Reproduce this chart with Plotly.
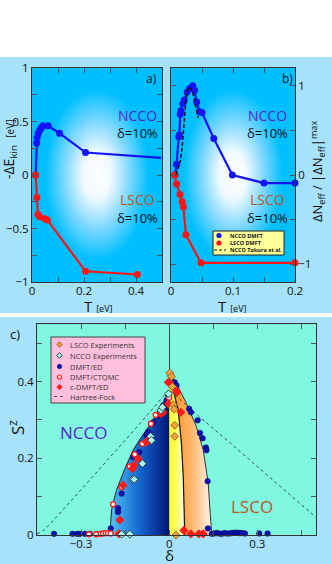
import plotly.graph_objects as go

# ---- panel a: kinetic energy gain vs T
a_ncco_T = [0.014, 0.018, 0.020, 0.024, 0.030, 0.035, 0.042, 0.062, 0.106, 0.206, 0.497]
a_ncco_E = [0.0, 0.30, 0.35, 0.39, 0.42, 0.44, 0.46, 0.46, 0.39, 0.21, 0.16]
a_lsco_T = [0.014, 0.019, 0.023, 0.0295, 0.049, 0.059, 0.206, 0.405]
a_lsco_E = [0.0, -0.21, -0.37, -0.39, -0.41, -0.42, -0.90, -0.93]

# ---- panel b: normalised Delta N_eff vs T
b_ncco_T = [0.0065, 0.009, 0.0125, 0.0135, 0.015, 0.016, 0.019, 0.0215, 0.026, 0.030,
            0.035, 0.038, 0.0415, 0.046, 0.050, 0.069, 0.099, 0.150, 0.200]
b_ncco_N = [0.0, 0.12, 0.43, 0.45, 0.68, 0.72, 0.80, 0.84, 0.93, 0.97,
            1.0, 0.95, 0.82, 0.71, 0.70, 0.41, 0.0, -0.09, -0.09]
b_lsco_T = [0.006, 0.009, 0.0145, 0.018, 0.020, 0.024, 0.0485, 0.200]
b_lsco_N = [0.0, -0.10, -0.22, -0.30, -0.36, -0.67, -0.985, -0.985]
b_tokura_T = [0.008, 0.0156, 0.019, 0.0215, 0.024, 0.028, 0.032, 0.036, 0.040, 0.044]
b_tokura_N = [0.0, 0.17, 0.39, 0.62, 0.84, 0.985, 0.97, 0.90, 0.78, 0.64]

# ---- panel c: staggered moment vs doping
c_ncco_dome_d = [-0.202, -0.196, -0.179, -0.148, -0.122, -0.094, -0.055, -0.032, 0.0]
c_ncco_dome_s = [0.0, 0.066, 0.118, 0.178, 0.222, 0.256, 0.299, 0.333, 0.364]
c_yellow_d = [0.0, 0.031, 0.042, 0.048, 0.051, 0.053]
c_yellow_s = [0.42, 0.325, 0.238, 0.151, 0.065, 0.0]
c_orange_d = [0.0, 0.025, 0.059, 0.093, 0.116, 0.133, 0.139, 0.145]
c_orange_s = [0.42, 0.394, 0.343, 0.282, 0.221, 0.135, 0.065, 0.0]

c_hf_d = [-0.45, -0.435, -0.42, -0.40, -0.30, -0.20, -0.10, 0.0, 0.10, 0.20, 0.30, 0.40, 0.50]
c_hf_s = [0.003, 0.008, 0.018, 0.033, 0.118, 0.204, 0.29, 0.379, 0.31, 0.245, 0.178, 0.112, 0.046]

c_ed_d = [-0.392, -0.329, -0.313, -0.304, -0.287, -0.270, -0.199, -0.174, -0.174, -0.162,
          -0.123, -0.102, -0.077, -0.072, -0.054, -0.037, -0.020, -0.009, -0.003, 0.005,
          0.019, 0.025, 0.068, 0.074, 0.097, 0.105, 0.114, 0.125, 0.127, 0.131, 0.132,
          0.145, 0.153, 0.162, 0.170, 0.179, 0.188, 0.196, 0.205, 0.213, 0.222, 0.230,
          0.239, 0.247, 0.258, 0.307, 0.335]
c_ed_s = [0.003, 0.003, 0.003, 0.003, 0.003, 0.003, 0.017, 0.06, 0.07, 0.108,
          0.203, 0.216, 0.26, 0.268, 0.294, 0.312, 0.338, 0.351, 0.364, 0.416,
          0.398, 0.39, 0.329, 0.32, 0.299, 0.266, 0.252, 0.228, 0.221, 0.14, 0.017,
          0.003, 0.004, 0.005, 0.004, 0.003, 0.005, 0.004, 0.004, 0.005, 0.006, 0.006,
          0.005, 0.005, 0.004, 0.004, 0.004]
c_ctqmc_d = [-0.273, -0.248, -0.233, -0.225, -0.216, -0.208, -0.199, -0.191, -0.162,
             -0.134, -0.117, -0.091, -0.062, -0.046, 0.0]
c_ctqmc_s = [0.002, 0.002, 0.003, 0.004, 0.005, 0.005, 0.004, 0.08, 0.125,
             0.179, 0.21, 0.238, 0.29, 0.313, 0.358]
c_cdmft_d = [-0.171, -0.168, -0.157, -0.125, -0.120, -0.106, -0.077, -0.075, -0.029, -0.020,
             -0.003, -0.003, 0.002, 0.019, 0.027, 0.040, 0.050, 0.074, 0.101, 0.116]
c_cdmft_s = [0.003, 0.039, 0.13, 0.173, 0.182, 0.199, 0.242, 0.245, 0.316, 0.32,
             0.398, 0.342, 0.396, 0.381, 0.372, 0.32, 0.012, 0.003, 0.003, 0.003]
c_lscoexp_d = [0.002, 0.008, 0.011, 0.014, 0.017, 0.019, 0.019, 0.023]
c_lscoexp_s = [0.422, 0.413, 0.387, 0.34, 0.328, 0.286, 0.257, 0.0]
c_nccoexp_d = [-0.162, -0.134, -0.124, -0.119, -0.091, -0.063, -0.060, -0.028, -0.023, -0.002]
c_nccoexp_s = [0.002, 0.002, 0.145, 0.145, 0.186, 0.257, 0.247, 0.325, 0.333, 0.368]

W, H = 332, 564
FONT = "Open Sans"
NCCO_COL = "#5a24c8"
LSCO_COL = "#b8561e"
SKY = "#00bfff"
PAPER = "#a6e2fa"
AQUA = "#7ff8df"


def px(x):
    return x / W


def py(y):
    return 1 - y / H


fig = go.Figure()

# gradient backgrounds of panels a and b
bg_scale = [[0, "#ffffff"], [0.22, "#f0faff"], [0.5, "#7fd8ff"], [0.8, SKY], [1, SKY]]
for xa, ya, xr, yr in [("x", "y", (0, 0.5), (-1, 1)), ("x2", "y2", (0, 0.2), (-1.2, 1.2))]:
    fig.add_trace(go.Scatter(
        x=[xr[0], xr[1], xr[1], xr[0], xr[0]], y=[yr[0], yr[0], yr[1], yr[1], yr[0]],
        xaxis=xa, yaxis=ya, mode="lines", line=dict(width=0), fill="toself",
        fillgradient=dict(type="radial", colorscale=bg_scale), hoverinfo="skip"))

# panel a
fig.add_trace(go.Scatter(x=a_ncco_T, y=a_ncco_E, mode="lines", line=dict(color="#1414f5", width=2.2),
                         xaxis="x", yaxis="y"))
fig.add_trace(go.Scatter(x=a_ncco_T[:-1], y=a_ncco_E[:-1], mode="markers",
                         marker=dict(color="#1414f5", size=7), xaxis="x", yaxis="y"))
fig.add_trace(go.Scatter(x=a_lsco_T, y=a_lsco_E, mode="lines+markers", line=dict(color="#ff1414", width=2.2),
                         marker=dict(color="#ff1414", size=7), xaxis="x", yaxis="y", cliponaxis=False))

# panel b
fig.add_trace(go.Scatter(x=b_ncco_T, y=b_ncco_N, mode="lines+markers", line=dict(color="#1414f5", width=2.2),
                         marker=dict(color="#1414f5", size=7), xaxis="x2", yaxis="y2", cliponaxis=False))
fig.add_trace(go.Scatter(x=b_lsco_T, y=b_lsco_N, mode="lines+markers", line=dict(color="#ff1414", width=2.2),
                         marker=dict(color="#ff1414", size=7), xaxis="x2", yaxis="y2", cliponaxis=False))
fig.add_trace(go.Scatter(x=b_tokura_T, y=b_tokura_N, mode="lines", line=dict(color="#111", width=1.5, dash="4px,2px"),
                         xaxis="x2", yaxis="y2"))

# panel c domes
fig.add_trace(go.Scatter(
    x=c_ncco_dome_d + [0.0, c_ncco_dome_d[0]], y=c_ncco_dome_s + [0.0, c_ncco_dome_s[0]],
    mode="lines", line=dict(width=0), fill="toself", xaxis="x3", yaxis="y3",
    fillgradient=dict(type="horizontal", colorscale=[[0, "#52c4f8"], [0.5, "#1468d0"], [1, "#001478"]])))
fig.add_trace(go.Scatter(x=c_ncco_dome_d, y=c_ncco_dome_s, mode="lines", line=dict(color="#222", width=1),
                         xaxis="x3", yaxis="y3"))
fig.add_trace(go.Scatter(
    x=[0.0] + c_yellow_d + [0.0], y=[0.0] + c_yellow_s + [0.0],
    mode="lines", line=dict(width=0), fill="toself", xaxis="x3", yaxis="y3",
    fillgradient=dict(type="horizontal", colorscale=[[0, "#ffff1e"], [0.5, "#ffff6a"], [1, "#fffff2"]])))
fig.add_trace(go.Scatter(
    x=c_yellow_d + c_orange_d[::-1], y=c_yellow_s + c_orange_s[::-1],
    mode="lines", line=dict(width=0), fill="toself", xaxis="x3", yaxis="y3",
    fillgradient=dict(type="horizontal", colorscale=[[0, "#ff8c1a"], [0.5, "#ffb466"], [1, "#fff4ea"]])))
fig.add_trace(go.Scatter(x=c_yellow_d, y=c_yellow_s, mode="lines", line=dict(color="#111", width=1.2),
                         xaxis="x3", yaxis="y3"))
fig.add_trace(go.Scatter(x=c_orange_d, y=c_orange_s, mode="lines", line=dict(color="#333", width=1),
                         xaxis="x3", yaxis="y3"))
fig.add_trace(go.Scatter(x=c_hf_d, y=c_hf_s, mode="lines", line=dict(color="#222", width=0.8, dash="dot"),
                         xaxis="x3", yaxis="y3"))

# panel c points
fig.add_trace(go.Scatter(x=c_ed_d, y=c_ed_s, mode="markers", xaxis="x3", yaxis="y3", cliponaxis=False,
                         marker=dict(color="#0a14b4", size=5.5, line=dict(color="#00005a", width=0.6))))
fig.add_trace(go.Scatter(x=c_ctqmc_d, y=c_ctqmc_s, mode="markers", xaxis="x3", yaxis="y3", cliponaxis=False,
                         marker=dict(color="#ffffff", size=5, line=dict(color="#ff1a1a", width=1.3))))
fig.add_trace(go.Scatter(x=c_cdmft_d, y=c_cdmft_s, mode="markers", xaxis="x3", yaxis="y3", cliponaxis=False,
                         marker=dict(color="#ff1a1a", size=7, symbol="diamond", line=dict(width=0))))
fig.add_trace(go.Scatter(x=c_nccoexp_d, y=c_nccoexp_s, mode="markers", xaxis="x3", yaxis="y3", cliponaxis=False,
                         marker=dict(color="#a8fff0", size=6, symbol="diamond", line=dict(color="#2a3a4a", width=1))))
fig.add_trace(go.Scatter(x=c_lscoexp_d, y=c_lscoexp_s, mode="markers", xaxis="x3", yaxis="y3", cliponaxis=False,
                         marker=dict(color="#f5a23c", size=6, symbol="diamond", line=dict(color="#7a5020", width=0.8))))

axis_common = dict(showline=True, linecolor="#333", linewidth=1, mirror="ticks", ticks="inside",
                   ticklen=5, tickcolor="#555", showgrid=False, automargin=False,
                   tickfont=dict(family=FONT, size=11.5, color="#111"))
minor_common = dict(ticks="inside", ticklen=5, tickcolor="#555", showgrid=False)

fig.update_layout(
    width=W, height=H, margin=dict(l=0, r=0, t=0, b=0, pad=0, autoexpand=False),
    paper_bgcolor=PAPER, plot_bgcolor=AQUA, showlegend=False,
    font=dict(family=FONT, size=12, color="#111"),
    xaxis=dict(domain=[px(32), px(162)], anchor="y", range=[0, 0.5], tick0=0, dtick=0.2,
               minor=dict(dtick=0.1, **minor_common), zeroline=False, ticklabelstandoff=-2, **axis_common),
    yaxis=dict(domain=[py(282), py(68)], anchor="x", range=[-1, 1], tick0=0, dtick=0.5,
               minor=dict(dtick=0.25, **minor_common), zeroline=True, zerolinecolor="#444",
               zerolinewidth=1, **axis_common),
    xaxis2=dict(domain=[px(171), px(295)], anchor="y2", range=[0, 0.2], tick0=0, dtick=0.1,
                minor=dict(dtick=0.05, **minor_common), zeroline=False, ticklabelstandoff=-2, **axis_common),
    yaxis2=dict(domain=[py(282), py(68)], anchor="x2", side="right", range=[-1.2, 1.2], tick0=0, dtick=1,
                minor=dict(dtick=0.5, **minor_common), zeroline=True, zerolinecolor="#444",
                zerolinewidth=1, **axis_common),
    xaxis3=dict(domain=[px(37), px(316)], anchor="y3", range=[-0.45, 0.5], tick0=0, dtick=0.3,
                minor=dict(dtick=0.15, **minor_common), zeroline=True, zerolinecolor="#444",
                zerolinewidth=1, ticklabelstandoff=-2, **axis_common),
    yaxis3=dict(domain=[py(535), py(324)], anchor="x3", range=[0, 0.55], tick0=0, dtick=0.2,
                minor=dict(dtick=0.1, **minor_common), zeroline=False, **axis_common),
)

shapes = [
    dict(type="rect", xref="paper", yref="paper", x0=0, x1=1, y0=py(57), y1=1,
         fillcolor="white", line=dict(width=0), layer="below"),
    dict(type="rect", xref="paper", yref="paper", x0=0, x1=1, y0=py(317), y1=py(313),
         fillcolor="white", line=dict(width=0), layer="below"),
    # legend box panel b
    dict(type="rect", xref="paper", yref="paper", x0=px(213), x1=px(284), y0=py(255), y1=py(231),
         fillcolor="#ffff9a", line=dict(color="#222", width=1)),
    # legend box panel c
    dict(type="rect", xref="paper", yref="paper", x0=px(51), x1=px(145), y0=py(403), y1=py(337),
         fillcolor="#ffbfdd", line=dict(color="#444", width=1)),
]


def dot(cx, cy, r, fill, line=None, lw=0):
    return dict(type="circle", xref="paper", yref="paper", x0=px(cx - r), x1=px(cx + r),
                y0=py(cy + r), y1=py(cy - r), fillcolor=fill,
                line=dict(color=line or fill, width=lw))


def diamond(cx, cy, r, fill, line=None, lw=0):
    path = "M {} {} L {} {} L {} {} L {} {} Z".format(
        px(cx), py(cy - r), px(cx + r), py(cy), px(cx), py(cy + r), px(cx - r), py(cy))
    return dict(type="path", xref="paper", yref="paper", path=path, fillcolor=fill,
                line=dict(color=line or fill, width=lw))


# legend swatches panel b
shapes += [
    dot(219, 235.5, 2.6, "#1414f5"),
    dot(219, 243, 2.6, "#ff1414"),
    dict(type="line", xref="paper", yref="paper", x0=px(214), x1=px(226), y0=py(250), y1=py(250),
         line=dict(color="#111", width=1.2, dash="3px,2px")),
]
# legend swatches panel c
shapes += [
    diamond(59.5, 344.5, 2.8, "#f5a23c", "#7a5020", 0.8),
    diamond(59.5, 355.5, 2.8, "#a8fff0", "#2a3a4a", 1),
    dot(59.5, 366.5, 2.2, "#0a14b4", "#00005a", 0.6),
    dot(59.5, 377, 2.0, "#ffffff", "#ff1a1a", 1.2),
    diamond(59.5, 387, 3.0, "#ff1a1a"),
    dict(type="line", xref="paper", yref="paper", x0=px(54), x1=px(65), y0=py(396.5), y1=py(396.5),
         line=dict(color="#333", width=0.8, dash="dot")),
]
fig.update_layout(shapes=shapes)


def note(x, y, text, size=12, color="#111", angle=0, xanchor="center"):
    fig.add_annotation(x=px(x), y=py(y), xref="paper", yref="paper", text=text, showarrow=False,
                       textangle=angle, xanchor=xanchor, yanchor="middle",
                       font=dict(family=FONT, size=size, color=color))


note(151, 78, "a)", 12)
note(287, 78, "b)", 12)
note(15, 334, "c)", 13)

for cx in (137, 267):
    note(cx, 115, "NCCO", 14, NCCO_COL)
    note(cx, 133, "δ=10%", 13)
    note(cx, 199, "LSCO", 14, LSCO_COL)
    note(cx, 218, "δ=10%", 13)

note(83, 432, "NCCO", 17, NCCO_COL)
note(252, 506, "LSCO", 17, LSCO_COL)

note(98, 306, "T <span style='font-size:9px'>[eV]</span>", 15)
note(233, 306, "T <span style='font-size:9px'>[eV]</span>", 15)
note(9, 150, "-ΔE<sub>kin</sub>  <span style='font-size:10px'>[eV]</span>", 14, angle=-90)
note(317, 172, "ΔN<sub>eff</sub> / |ΔN<sub>eff</sub>|<sup>max</sup>", 13, angle=-90)
note(16, 428, "S<sup>z</sup>", 17, angle=-90)
note(169, 555, "δ", 15)

# legend text panel b
for yy, t in [(235.5, "NCCO DMFT"), (243, "LSCO DMFT"), (250, "NCCO Tokura et al.")]:
    note(228, yy, "<b>" + t + "</b>", 5.5, "#111", xanchor="left")
# legend text panel c
for yy, t in [(344.5, "LSCO Experiments"), (355.5, "NCCO Experiments"), (366.5, "DMFT/ED"),
              (377, "DMFT/CTQMC"), (387, "c-DMFT/ED"), (396.5, "Hartree-Fock")]:
    note(68, yy, t, 7.5, "#333", xanchor="left")

fig.write_html("out.html", config={"displayModeBar": False},
               post_script="document.body.style.margin='0';document.body.style.overflow='hidden';")
